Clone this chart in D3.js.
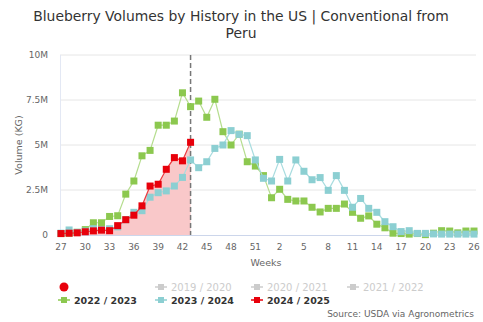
<!DOCTYPE html>
<html>
<head>
<meta charset="utf-8">
<script src="https://cdn.jsdelivr.net/npm/d3@7"></script>
<style>
  body { margin: 0; background: #fff; }
  svg { display: block; font-family: "DejaVu Sans", sans-serif; }
</style>
</head>
<body>
<svg id="chart"></svg>
<script>
// weeks of the season, week 27 through week 26 of the next year
var weeks = [27, 28, 29, 30, 31, 32, 33, 34, 35, 36, 37, 38, 39, 40, 41, 42, 43, 44, 45, 46,
    47, 48, 49, 50, 51, 52, 1, 2, 3, 4, 5, 6, 7, 8, 9, 10, 11, 12, 13, 14, 15, 16, 17, 18, 19,
    20, 21, 22, 23, 24, 25, 26];
var tickWeeks = [27, 30, 33, 36, 39, 42, 45, 48, 51, 2, 5, 8, 11, 14, 17, 20, 23, 26];

// volumes in millions of KG
var s2223 = [0.08, 0.1, 0.15, 0.3, 0.68, 0.68, 1.03, 1.07, 2.27, 3.0, 4.4, 4.7, 6.1, 6.1, 6.33, 7.9,
    7.13, 7.44, 6.54, 7.54, 5.74, 5.0, 5.6, 4.07, 3.83, 3.3, 2.07, 2.54, 1.98, 1.89, 1.89, 1.54,
    1.28, 1.48, 1.48, 1.72, 1.26, 0.93, 1.06, 0.6, 0.4, 0.1, 0.08, 0.05, 0.08, 0.02, 0.1, 0.24,
    0.22, 0.12, 0.22, 0.22];
var s2324 = [0.1, 0.28, 0.15, 0.22, 0.35, 0.3, 0.35, 0.45, 0.85, 1.26, 1.35, 2.1, 2.35, 2.45, 2.72,
    3.2, 4.17, 3.74, 4.07, 4.81, 5.0, 5.8, 5.59, 5.52, 4.17, 3.15, 3.0, 4.2, 3.0, 4.17, 3.54, 3.07,
    3.19, 2.48, 3.3, 2.48, 1.54, 2.03, 1.48, 1.26, 0.74, 0.46, 0.19, 0.24, 0.09, 0.09, 0.06, 0.05,
    0.05, 0.05, 0.05, 0.05];
var s2425 = [0.08, 0.1, 0.12, 0.18, 0.23, 0.27, 0.24, 0.52, 0.85, 1.1, 1.62, 2.72, 2.82, 3.65,
    4.3, 4.12, 5.15];

var yTicks = [0, 2.5, 5, 7.5, 10];
var yTickLabels = ["0", "2.5M", "5M", "7.5M", "10M"];
var currentWeek = 43;

var width = 483, height = 322;
var svg = d3.select("#chart").attr("width", width).attr("height", height);

var x = d3.scaleLinear().domain([0, weeks.length - 1]).range([61, 474]);
var y = d3.scaleLinear().domain([0, 10]).range([235, 55]);

// title
svg.append("text")
    .attr("x", 241).attr("y", 21)
    .attr("text-anchor", "middle")
    .attr("font-size", 13.9).attr("fill", "#333")
    .text("Blueberry Volumes by History in the US | Conventional from");
svg.append("text")
    .attr("x", 241).attr("y", 38)
    .attr("text-anchor", "middle")
    .attr("font-size", 13.9).attr("fill", "#333")
    .text("Peru");

// grid
svg.append("g").selectAll("line")
    .data(yTicks.slice(1))
    .enter().append("line")
    .attr("x1", 60).attr("x2", 476)
    .attr("y1", function (d) { return y(d); })
    .attr("y2", function (d) { return y(d); })
    .attr("stroke", "#e6e6e6");

svg.append("line")
    .attr("x1", 60.5).attr("x2", 60.5).attr("y1", 55).attr("y2", 235)
    .attr("stroke", "#e3e8f4");
svg.append("line")
    .attr("x1", 60).attr("x2", 476).attr("y1", 235.5).attr("y2", 235.5)
    .attr("stroke", "#ccd6eb");

// y labels
svg.append("g").selectAll("text")
    .data(yTicks)
    .enter().append("text")
    .attr("x", 48)
    .attr("y", function (d) { return y(d) + 3; })
    .attr("text-anchor", "end")
    .attr("font-size", 9).attr("fill", "#666")
    .text(function (d, i) { return yTickLabels[i]; });

svg.append("text")
    .attr("transform", "translate(22,145) rotate(-90)")
    .attr("text-anchor", "middle")
    .attr("font-size", 9.5).attr("fill", "#666")
    .text("Volume (KG)");

// x labels
svg.append("g").selectAll("text")
    .data(tickWeeks)
    .enter().append("text")
    .attr("x", function (d) { return x(weeks.indexOf(d)); })
    .attr("y", 250)
    .attr("text-anchor", "middle")
    .attr("font-size", 9).attr("fill", "#666")
    .text(function (d) { return d; });

svg.append("text")
    .attr("x", 266).attr("y", 266)
    .attr("text-anchor", "middle")
    .attr("font-size", 9.5).attr("fill", "#666")
    .text("Weeks");

// current season area
var area = d3.area()
    .x(function (d, i) { return x(i); })
    .y0(y(0))
    .y1(function (d) { return y(d); });

svg.append("path")
    .datum(s2425)
    .attr("d", area)
    .attr("fill", "#f9c8c9");

// current week marker
svg.append("line")
    .attr("x1", x(weeks.indexOf(currentWeek))).attr("x2", x(weeks.indexOf(currentWeek)))
    .attr("y1", 55).attr("y2", 235)
    .attr("stroke", "#777").attr("stroke-width", 1.5)
    .attr("stroke-dasharray", "5,3");

var line = d3.line()
    .x(function (d, i) { return x(i); })
    .y(function (d) { return y(d); });

var series = [
    { values: s2223, color: "#8cc84f", lineColor: "#b5dd8e" },
    { values: s2324, color: "#8ccfd2", lineColor: "#a8dcdf" },
    { values: s2425, color: "#e8000b", lineColor: "#ec3a40" }
];

series.forEach(function (s) {
    svg.append("path")
        .datum(s.values)
        .attr("d", line)
        .attr("fill", "none")
        .attr("stroke", s.lineColor)
        .attr("stroke-width", 1.2);

    svg.append("g").selectAll("rect")
        .data(s.values)
        .enter().append("rect")
        .attr("x", function (d, i) { return x(i) - 3.5; })
        .attr("y", function (d) { return y(d) - 3.5; })
        .attr("width", 7).attr("height", 7)
        .attr("fill", s.color);
});

// legend
var legend = svg.append("g");
legend.append("circle").attr("cx", 64).attr("cy", 287).attr("r", 4.5).attr("fill", "#e8000b");

var legendItems = [
    { name: "2019 / 2020", color: "#ccc", active: false, x: 155, y: 287 },
    { name: "2020 / 2021", color: "#ccc", active: false, x: 251, y: 287 },
    { name: "2021 / 2022", color: "#ccc", active: false, x: 347, y: 287 },
    { name: "2022 / 2023", color: "#8cc84f", active: true, x: 58, y: 300 },
    { name: "2023 / 2024", color: "#8ccfd2", active: true, x: 155, y: 300 },
    { name: "2024 / 2025", color: "#e8000b", active: true, x: 251, y: 300 }
];

legendItems.forEach(function (d) {
    var g = legend.append("g").attr("transform", "translate(" + d.x + "," + d.y + ")");
    g.append("line").attr("x1", 0).attr("x2", 12).attr("y1", 0).attr("y2", 0)
        .attr("stroke", d.color).attr("stroke-width", 1.5);
    g.append("rect").attr("x", 3).attr("y", -3).attr("width", 6).attr("height", 6)
        .attr("fill", d.color);
    g.append("text")
        .attr("x", 16).attr("y", 3.5)
        .attr("font-size", d.active ? 9.5 : 10)
        .attr("font-weight", d.active ? "bold" : "normal")
        .attr("fill", d.active ? "#333" : "#ccc")
        .text(d.name);
});

svg.append("text")
    .attr("x", 474).attr("y", 317)
    .attr("text-anchor", "end")
    .attr("font-size", 9).attr("fill", "#666")
    .text("Source: USDA via Agronometrics");
</script>
</body>
</html>
